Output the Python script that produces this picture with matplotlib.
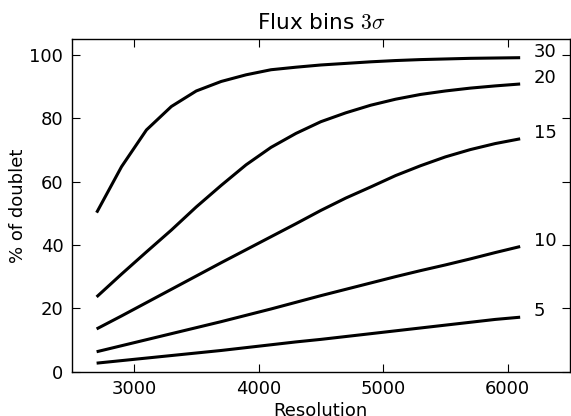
import matplotlib
matplotlib.use("Agg")
import matplotlib.pyplot as plt

plt.rcParams['font.family'] = ['DejaVu Sans']
plt.rcParams['mathtext.fontset'] = 'cm'

resolution = [2700, 2900, 3100, 3300, 3500, 3700, 3900, 4100, 4300,
              4500, 4700, 4900, 5100, 5300, 5500, 5700, 5900, 6100]

series_labels = ["30", "20", "15", "10", "5"]
flux30 = [50.2, 64.7, 76.3, 83.7, 88.6, 91.6, 93.7, 95.3, 96.1,
          96.8, 97.3, 97.8, 98.2, 98.5, 98.7, 98.9, 99.0, 99.1]
flux20 = [23.6, 30.8, 37.8, 44.7, 52.0, 58.8, 65.3, 70.8, 75.2,
          78.9, 81.7, 84.1, 86.0, 87.5, 88.6, 89.5, 90.2, 90.8]
flux15 = [13.5, 17.6, 21.8, 26.0, 30.2, 34.4, 38.5, 42.6, 46.7,
          50.9, 54.8, 58.3, 61.9, 65.0, 67.8, 70.1, 72.0, 73.5]
flux10 = [6.3, 8.2, 10.1, 12.0, 13.9, 15.8, 17.8, 19.8, 21.9,
          24.0, 26.0, 28.0, 30.0, 31.9, 33.7, 35.6, 37.6, 39.5]
flux5 = [2.7, 3.5, 4.3, 5.1, 5.9, 6.7, 7.6, 8.5, 9.4,
         10.2, 11.1, 12.0, 12.9, 13.8, 14.7, 15.6, 16.5, 17.2]
all_series = [flux30, flux20, flux15, flux10, flux5]

xticks = [3000, 4000, 5000, 6000]
yticks = [0, 20, 40, 60, 80, 100]

fig = plt.figure(figsize=(5.71, 4.16), dpi=100)
ax = fig.add_axes([71.7 / 571, 1 - 371.7 / 416, (570 - 71.7) / 571, (371.7 - 39) / 416])

fs = 13
for lab, ys in zip(series_labels, all_series):
    ax.plot(resolution, ys, color='black', linewidth=2.2, solid_capstyle='butt')
    ax.text(resolution[-1] + 110, ys[-1] + 1.8, lab, ha='left', va='center', fontsize=fs)

ax.set_xlim(2500, 6500)
ax.set_ylim(0, 105)
ax.set_xticks(xticks)
ax.set_yticks(yticks)
ax.tick_params(direction='in', top=True, right=True, length=5.5, width=0.8,
               labelsize=fs, pad=6)
for s in ax.spines.values():
    s.set_linewidth(1.0)

ax.set_xlabel("Resolution", fontsize=fs, labelpad=3)
ax.set_ylabel("% of doublet", fontsize=fs, labelpad=2)
ax.set_title(r"Flux bins $3\sigma$", fontsize=15.6, pad=7)

fig.savefig("out.png", dpi=100)
